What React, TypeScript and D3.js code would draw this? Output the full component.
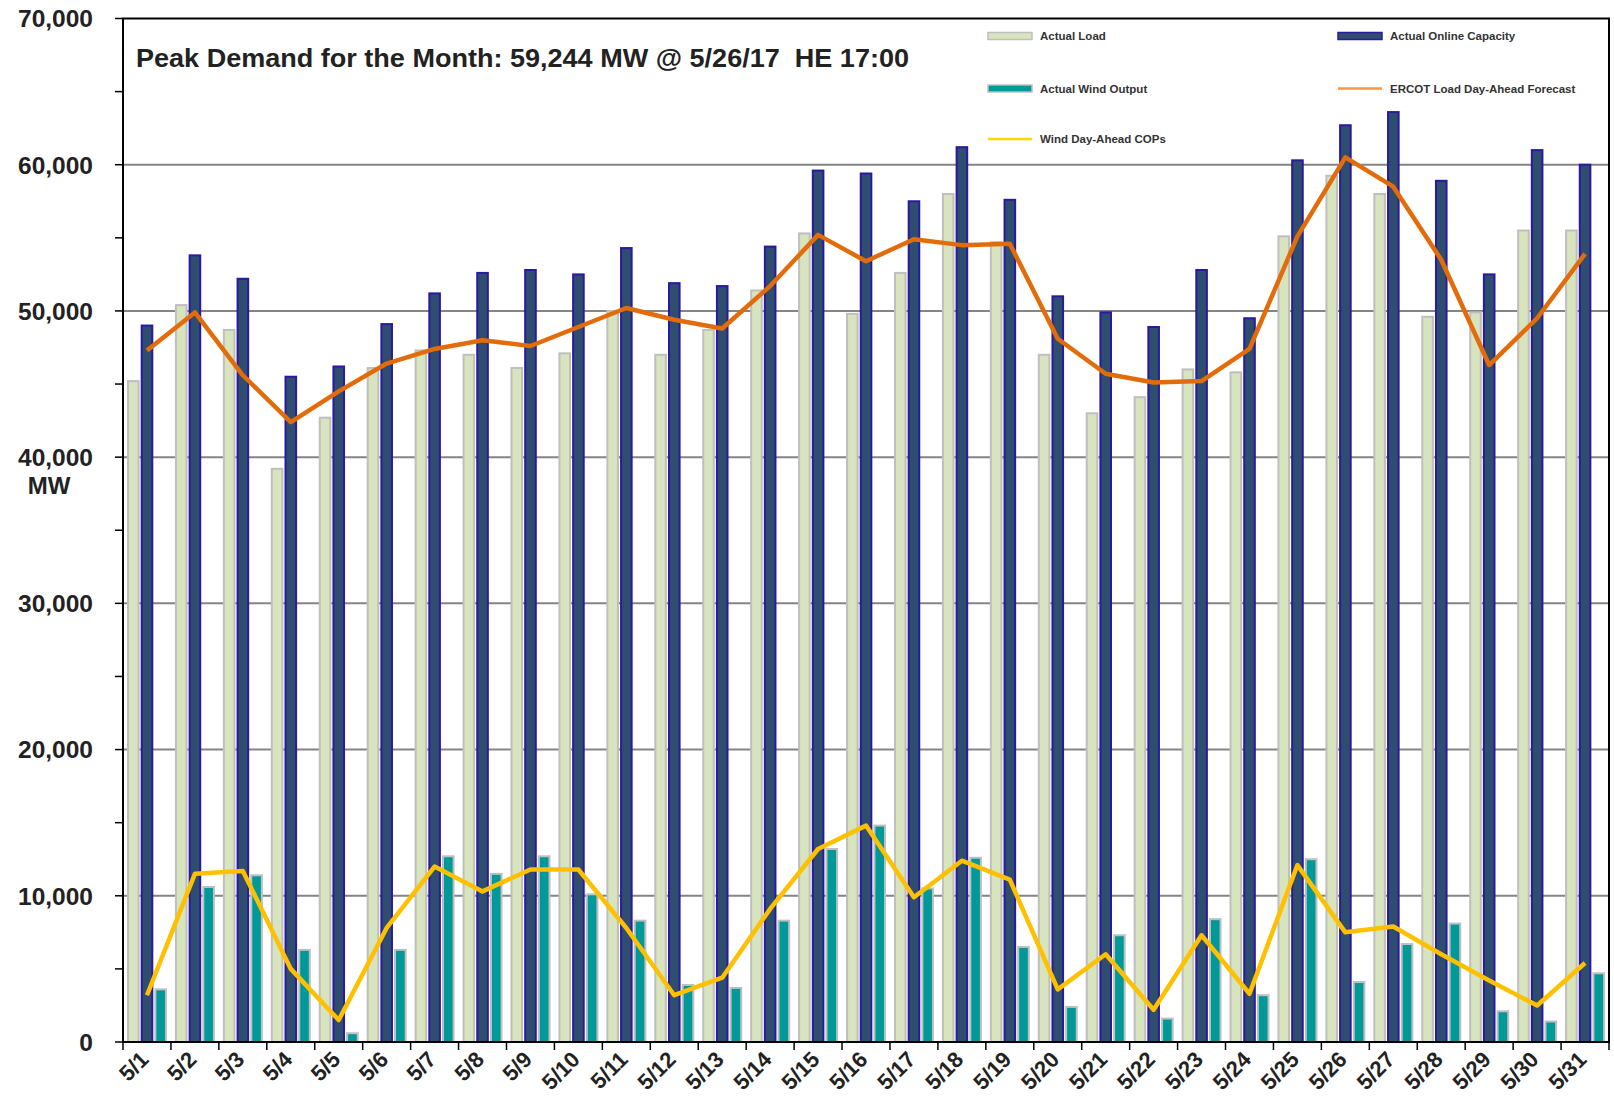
import * as d3 from "d3";

const days = [
  "5/1", "5/2", "5/3", "5/4", "5/5", "5/6", "5/7", "5/8", "5/9", "5/10",
  "5/11", "5/12", "5/13", "5/14", "5/15", "5/16", "5/17", "5/18", "5/19", "5/20",
  "5/21", "5/22", "5/23", "5/24", "5/25", "5/26", "5/27", "5/28", "5/29", "5/30", "5/31",
];

// MW
const actualLoad = [
  45200, 50400, 48700, 39200, 42700, 46100, 47300, 47000, 46100, 47100,
  50000, 47000, 48700, 51400, 55300, 49800, 52600, 58000, 54700, 47000,
  43000, 44100, 46000, 45800, 55100, 59244, 58000, 49600, 49900, 55500, 55500,
];
const onlineCapacity = [
  49000, 53800, 52200, 45500, 46200, 49100, 51200, 52600, 52800, 52500,
  54300, 51900, 51700, 54400, 59600, 59400, 57500, 61200, 57600, 51000,
  49900, 48900, 52800, 49500, 60300, 62700, 63600, 58900, 52500, 61000, 60000,
];
const windOutput = [
  3600, 10600, 11400, 6300, 600, 6300, 12700, 11500, 12700, 10100,
  8300, 3900, 3700, 8300, 13200, 14800, 10500, 12600, 6500, 2400,
  7300, 1600, 8400, 3200, 12500, 4100, 6700, 8100, 2100, 1400, 4700,
];
const loadForecast = [
  47300, 49900, 45600, 42400, 44500, 46400, 47400, 48000, 47600, 48900,
  50200, 49400, 48800, 51700, 55200, 53400, 54900, 54500, 54600, 48100,
  45700, 45100, 45200, 47400, 55100, 60500, 58500, 53500, 46300, 49500, 53900,
];
const windCops = [
  3200, 11500, 11700, 5000, 1500, 7800, 12000, 10300, 11800, 11800,
  7800, 3200, 4400, 9100, 13200, 14800, 9900, 12400, 11100, 3600,
  6000, 2200, 7300, 3300, 12100, 7500, 7900, 6000, 4200, 2500, 5400,
];

const yTicks = d3.range(0, 70001, 10000);
const yMinorTicks = d3.range(0, 70001, 5000);

const barSeries = [
  { key: "load", values: actualLoad, fill: "#d7e4bd", stroke: "#bfbfbf" },
  { key: "cap", values: onlineCapacity, fill: "#2f4d6e", stroke: "#2a1aa0" },
  { key: "wind", values: windOutput, fill: "#009999", stroke: "#bfbfbf" },
];

const FONT = "'Liberation Sans', Arial, sans-serif";

export default function App() {
  const width = 1614;
  const height = 1096;
  const left = 123;
  const right = 1609;
  const top = 18.5;
  const bottom = 1042;

  const x = d3.scaleBand(days, [left, right]);
  const x1 = d3
    .scaleBand(barSeries.map((s) => s.key), [4, 44])
    .paddingInner(0.08);
  const y = d3.scaleLinear([0, 70000], [bottom, top]);

  const cx = (i: number) => x(days[i])! + x.bandwidth() / 2;
  const line = d3
    .line<number>()
    .x((d, i) => cx(i))
    .y((d) => y(d));

  const legend = [
    { label: "Actual Load", lx: 988, ly: 36, kind: "bar", fill: "#d7e4bd", stroke: "#bfbfbf" },
    { label: "Actual Online Capacity", lx: 1338, ly: 36, kind: "bar", fill: "#2f4d6e", stroke: "#2a1aa0" },
    { label: "Actual Wind Output", lx: 988, ly: 88.5, kind: "bar", fill: "#009999", stroke: "#bfbfbf" },
    { label: "ERCOT Load Day-Ahead Forecast", lx: 1338, ly: 88.5, kind: "line", fill: "#f79646", stroke: "#f79646" },
    { label: "Wind Day-Ahead COPs", lx: 988, ly: 139, kind: "line", fill: "#ffd700", stroke: "#ffd700" },
  ];

  return (
    <svg
      width={width}
      height={height}
      style={{ position: "absolute", left: 0, top: 0, background: "#fff" }}
      fontFamily={FONT}
    >
      {/* grid */}
      <g stroke="#858585" strokeWidth={2}>
        {yTicks.slice(1, -1).map((t) => (
          <line key={t} x1={left} x2={right} y1={y(t)} y2={y(t)} />
        ))}
      </g>

      {/* bars */}
      {barSeries.map((s) => (
        <g key={s.key} fill={s.fill} stroke={s.stroke} strokeWidth={2}>
          {s.values.map((v, i) => (
            <rect
              key={i}
              x={x(days[i])! + x1(s.key)! + 1}
              y={y(v)}
              width={x1.bandwidth() - 2}
              height={bottom - y(v)}
            />
          ))}
        </g>
      ))}

      {/* lines */}
      <path
        d={line(loadForecast)!}
        fill="none"
        stroke="#e36c0a"
        strokeWidth={4.5}
        strokeLinejoin="round"
      />
      <path
        d={line(windCops)!}
        fill="none"
        stroke="#ffc000"
        strokeWidth={4.5}
        strokeLinejoin="round"
      />

      {/* frame */}
      <rect
        x={left}
        y={top}
        width={right - left}
        height={bottom - top}
        fill="none"
        stroke="#000"
        strokeWidth={2}
      />

      {/* y axis */}
      <g stroke="#000" strokeWidth={1.5}>
        {yMinorTicks.map((t) => (
          <line key={t} x1={115} x2={left} y1={y(t)} y2={y(t)} />
        ))}
      </g>
      <g fontSize={24.5} fontWeight="bold" textAnchor="end" fill="#222">
        {yTicks.map((t) => (
          <text key={t} x={93} y={y(t)} dy="0.36em">
            {d3.format(",")(t)}
          </text>
        ))}
      </g>
      <text x={49} y={y(40000) + 37} fontSize={24} fontWeight="bold" textAnchor="middle" fill="#222">
        MW
      </text>

      {/* x axis */}
      <g stroke="#000" strokeWidth={1.5}>
        {days.map((d) => (
          <line key={d} x1={x(d)!} x2={x(d)!} y1={bottom} y2={bottom + 8} />
        ))}
        <line x1={right} x2={right} y1={bottom} y2={bottom + 8} />
      </g>
      <g fontSize={22} fontWeight="bold" textAnchor="end" fill="#222">
        {days.map((d, i) => (
          <text
            key={d}
            transform={`translate(${cx(i) - 8},${bottom + 8}) rotate(-45)`}
            dy="0.7em"
          >
            {d}
          </text>
        ))}
      </g>

      {/* title */}
      <text
        x={136}
        y={67}
        fontSize={25}
        fontWeight="bold"
        fill="#222"
        textLength={773}
        lengthAdjust="spacingAndGlyphs"
        style={{ whiteSpace: "pre" }}
      >
        {"Peak Demand for the Month: 59,244 MW @ 5/26/17  HE 17:00"}
      </text>

      {/* legend */}
      {legend.map((l) => (
        <g key={l.label}>
          {l.kind === "bar" ? (
            <rect
              x={l.lx}
              y={l.ly - 3.5}
              width={44}
              height={7}
              fill={l.fill}
              stroke={l.stroke}
              strokeWidth={1.5}
            />
          ) : (
            <line x1={l.lx} x2={l.lx + 44} y1={l.ly} y2={l.ly} stroke={l.stroke} strokeWidth={2.5} />
          )}
          <text x={l.lx + 52} y={l.ly} dy="0.35em" fontSize={11.5} fontWeight="bold" fill="#333">
            {l.label}
          </text>
        </g>
      ))}
    </svg>
  );
}
